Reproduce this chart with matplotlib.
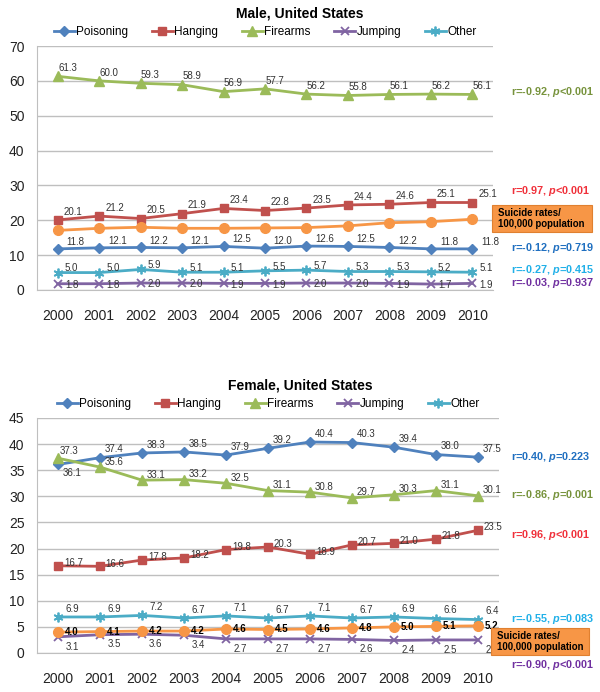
import matplotlib
matplotlib.use("Agg")
import matplotlib.pyplot as plt
from matplotlib.patches import Rectangle

plt.rcParams['font.family'] = ['Liberation Sans', 'DejaVu Sans']
plt.rcParams['mathtext.fontset'] = 'custom'
plt.rcParams['mathtext.it'] = 'Liberation Sans:italic:bold'
plt.rcParams['mathtext.rm'] = 'Liberation Sans:bold'

years = ['2000', '2001', '2002', '2003', '2004', '2005', '2006', '2007', '2008', '2009', '2010']
series_names = ['Poisoning', 'Hanging', 'Firearms', 'Jumping', 'Other']

male_poisoning = [11.8, 12.1, 12.2, 12.1, 12.5, 12.0, 12.6, 12.5, 12.2, 11.8, 11.8]
male_hanging = [20.1, 21.2, 20.5, 21.9, 23.4, 22.8, 23.5, 24.4, 24.6, 25.1, 25.1]
male_firearms = [61.3, 60.0, 59.3, 58.9, 56.9, 57.7, 56.2, 55.8, 56.1, 56.2, 56.1]
male_jumping = [1.8, 1.8, 2.0, 2.0, 1.9, 1.9, 2.0, 2.0, 1.9, 1.7, 1.9]
male_other = [5.0, 5.0, 5.9, 5.1, 5.1, 5.5, 5.7, 5.3, 5.3, 5.2, 5.1]
male_total = [17.1, 17.7, 18.0, 17.7, 17.7, 17.8, 17.9, 18.4, 19.3, 19.6, 20.3]

female_poisoning = [36.1, 37.4, 38.3, 38.5, 37.9, 39.2, 40.4, 40.3, 39.4, 38.0, 37.5]
female_hanging = [16.7, 16.6, 17.8, 18.2, 19.8, 20.3, 18.9, 20.7, 21.0, 21.8, 23.5]
female_firearms = [37.3, 35.6, 33.1, 33.2, 32.5, 31.1, 30.8, 29.7, 30.3, 31.1, 30.1]
female_jumping = [3.1, 3.5, 3.6, 3.4, 2.7, 2.7, 2.7, 2.6, 2.4, 2.5, 2.5]
female_other = [6.9, 6.9, 7.2, 6.7, 7.1, 6.7, 7.1, 6.7, 6.9, 6.6, 6.4]
female_total = [4.0, 4.1, 4.2, 4.2, 4.6, 4.5, 4.6, 4.8, 5.0, 5.1, 5.2]

male_stats = ['r=-0.12, $p$=0.719', 'r=0.97, $p$<0.001', 'r=-0.92, $p$<0.001',
              'r=-0.03, $p$=0.937', 'r=-0.27, $p$=0.415']
female_stats = ['r=0.40, $p$=0.223', 'r=0.96, $p$<0.001', 'r=-0.86, $p$=0.001',
                'r=-0.90, $p$<0.001', 'r=-0.55, $p$=0.083']

line_colors = ['#4F81BD', '#C0504D', '#9BBB59', '#8064A2', '#4BACC6']
total_color = '#F79646'
stat_colors = ['#1F6FC0', '#F0303A', '#77933C', '#7030A0', '#20B0E8']
markers = ['D', 's', '^', 'x', (6, 2, 0)]
msizes = [5, 6, 7, 6, 7]

W, H = 600, 692
fig = plt.figure(figsize=(6, 6.92), dpi=100)


def fx(px):
    return px / W


def fy(py):
    return 1 - py / H


def draw_panel(rect, title, title_y, data, total, ymax, ystep, offsets, total_label,
               stats, stat_y, box_rect, total_offset):
    ax = fig.add_axes(rect)
    x = list(range(len(years)))
    for i, (name, vals) in enumerate(zip(series_names, data)):
        ax.plot(x, vals, color=line_colors[i], lw=2.0, marker=markers[i], ms=msizes[i],
                mew=1.3 if i >= 3 else 1, label=name, zorder=3)
        for j, v in enumerate(vals):
            dx, dy = offsets[i](j)
            ax.annotate(f'{v:.1f}', (j, v), xytext=(dx, dy), textcoords='offset points',
                        ha='center', va='center', fontsize=7, color='#333333', zorder=5)
    ax.plot(x, total, color=total_color, lw=2.0, marker='o', ms=7, zorder=4)
    if total_label:
        for j, v in enumerate(total):
            ax.annotate(f'{v:.1f}', (j, v), xytext=total_offset, textcoords='offset points',
                        ha='center', va='center', fontsize=7, fontweight='bold',
                        color='black', zorder=5)
    ax.set_xlim(-0.5, len(years) - 0.5)
    ax.set_ylim(0, ymax)
    ax.set_yticks(range(0, ymax + 1, ystep))
    ax.set_xticks(x)
    ax.set_xticklabels(years)
    ax.tick_params(length=0, labelsize=10, colors='#222222')
    ax.tick_params(axis='x', pad=14)
    ax.tick_params(axis='y', pad=9)
    ax.grid(axis='y', color='#BFBFBF', lw=1)
    ax.set_axisbelow(True)
    for s in ['top', 'right']:
        ax.spines[s].set_visible(False)
    for s in ['left', 'bottom']:
        ax.spines[s].set_color('#BFBFBF')
    ax.legend(loc='lower center', bbox_to_anchor=(0.5, 1.0), ncol=5, frameon=False,
              fontsize=8.5, handlelength=1.8, handletextpad=0.1, columnspacing=2.0,
              borderaxespad=0.3)
    fig.text(0.5, fy(title_y), title, ha='center', va='center', fontsize=10,
             fontweight='bold')
    for i, s in enumerate(stats):
        fig.text(fx(511), fy(stat_y[i]), s, ha='left', va='center', fontsize=7.8,
                 fontweight='bold', color=stat_colors[i])
    bx0, by0, bx1, by1 = box_rect
    fig.patches.append(Rectangle((fx(bx0), fy(by1)), fx(bx1) - fx(bx0), fy(by0) - fy(by1),
                                 transform=fig.transFigure, facecolor=total_color,
                                 edgecolor='#E08030', lw=0.8, zorder=10))
    fig.text(fx(bx0 + 6), fy((by0 + by1) / 2), 'Suicide rates/\n100,000 population',
             ha='left', va='center', fontsize=6.9, fontweight='bold', color='black',
             linespacing=1.2, zorder=11)
    return ax


male_data = [male_poisoning, male_hanging, male_firearms, male_jumping, male_other]
male_offsets = [
    lambda j: (13, 5),
    lambda j: (11, 6),
    lambda j: (7, 6),
    lambda j: (10, -1),
    lambda j: (10, 3),
]
draw_panel([fx(37), fy(290), fx(493) - fx(37), fy(46) - fy(290)],
           'Male, United States', 13, male_data, male_total, 70, 10, male_offsets,
           False, male_stats, [248, 191, 92, 283, 270], (492, 205, 592, 232), (0, 0))

female_data = [female_poisoning, female_hanging, female_firearms, female_jumping, female_other]
female_offsets = [
    lambda j: (10, -6) if j == 0 else (10, 6),
    lambda j: (11, 2),
    lambda j: (8, 5) if j == 0 else (10, 4),
    lambda j: (10, -7),
    lambda j: (10, 6),
]
draw_panel([fx(37), fy(653), fx(499) - fx(37), fy(418) - fy(653)],
           'Female, United States', 386, female_data, female_total, 45, 5, female_offsets,
           True, female_stats, [457, 535, 495, 665, 619], (491, 628, 589, 655), (10, 0))

fig.savefig('out.png', dpi=100)
